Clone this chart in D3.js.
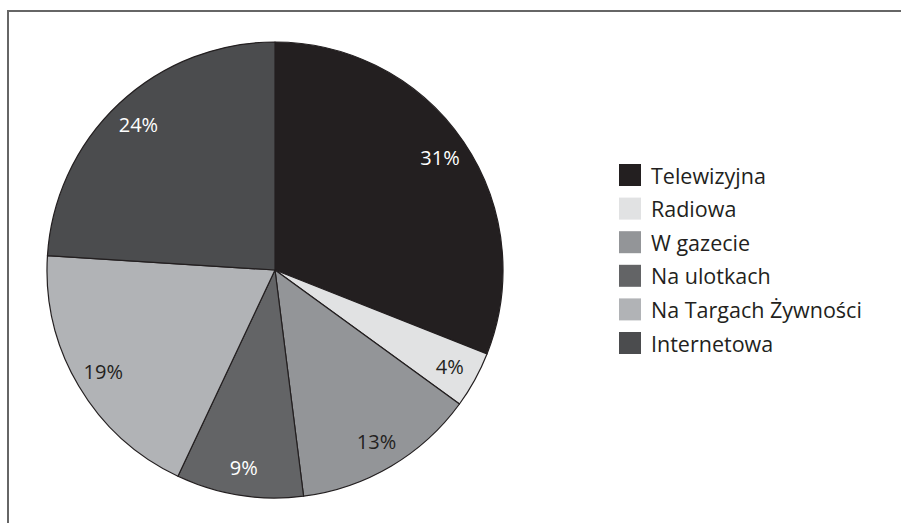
<!DOCTYPE html>
<html><head><meta charset="utf-8">
<script src="https://cdn.jsdelivr.net/npm/d3@7"></script>
<style>html,body{margin:0;padding:0;background:#fff}</style>
</head><body>
<svg id="chart" width="901" height="523"></svg>
<script>
const categories = ["Telewizyjna","Radiowa","W gazecie","Na ulotkach","Na Targach Żywności","Internetowa"];
const values = [31,4,13,9,19,24];
const colors = ["#231f20","#e1e2e3","#939598","#636466","#b1b3b6","#4b4c4e"];
const labelColors = ["#ffffff","#231f20","#231f20","#ffffff","#231f20","#ffffff"];

const svg = d3.select("#chart");
const font = "'Open Sans', 'Noto Sans', sans-serif";

// frame (top and left lines)
svg.append("line").attr("x1",8).attr("y1",11).attr("x2",901).attr("y2",11).attr("stroke","#666").attr("stroke-width",2);
svg.append("line").attr("x1",8).attr("y1",10).attr("x2",8).attr("y2",523).attr("stroke","#666").attr("stroke-width",2);

const cx = 275, cy = 270, r = 228;
const data = categories.map((c,i)=>({cat:c, value:values[i], i}));
const pie = d3.pie().value(d=>d.value).sort(null);
const arc = d3.arc().innerRadius(0).outerRadius(r);
const labelArc = d3.arc().innerRadius(r*0.875).outerRadius(r*0.875);
const g = svg.append("g").attr("transform",`translate(${cx},${cy})`);
const arcs = pie(data);
g.selectAll("path").data(arcs).join("path")
  .attr("d",arc).attr("fill",d=>colors[d.data.i])
  .attr("stroke","#231f20").attr("stroke-width",1.2).attr("stroke-linejoin","round");
g.selectAll("text").data(arcs).join("text")
  .attr("transform",d=>`translate(${labelArc.centroid(d)})`)
  .attr("text-anchor","middle").attr("dominant-baseline","central")
  .attr("font-family",font).attr("font-size",20)
  .attr("fill",d=>labelColors[d.data.i])
  .text(d=>d.data.value+"%");

// legend
const lg = svg.append("g").attr("transform","translate(619,164)");
const rowY = d3.scaleBand().domain(categories).range([0,33.6*6]);
const rows = lg.selectAll("g").data(categories).join("g").attr("transform",d=>`translate(0,${rowY(d)})`);
rows.append("rect").attr("width",22).attr("height",22).attr("fill",(d,i)=>colors[i]);
rows.append("text").attr("x",32).attr("y",11).attr("dominant-baseline","central")
  .attr("font-family",font).attr("font-size",21.5).attr("fill","#231f20").text(d=>d);
</script>
</body></html>
